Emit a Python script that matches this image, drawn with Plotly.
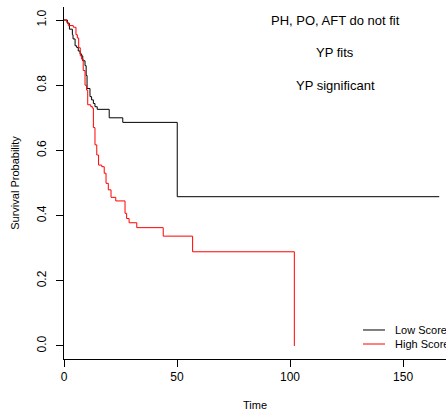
import plotly.graph_objects as go

# Kaplan-Meier step data
low_time = [0, 1.5, 2.4, 3.7, 4.0, 4.9, 5.6, 6.3, 7.1, 7.8, 8.3, 9.3, 9.8, 10.2,
            11.5, 12.2, 13.0, 13.7, 14.7, 20.0, 26.0, 50.1, 166.0]
low_surv = [1.0, 0.99, 0.972, 0.955, 0.942, 0.921, 0.916, 0.905, 0.896, 0.89, 0.875,
            0.86, 0.83, 0.79, 0.765, 0.755, 0.744, 0.734, 0.726, 0.70, 0.686, 0.458, 0.458]

high_time = [0, 1.2, 1.9, 4.1, 5.3, 5.9, 6.5, 7.2, 7.8, 8.5, 9.3, 10.0, 10.5, 11.8,
             12.5, 13.0, 13.7, 14.5, 15.3, 16.7, 17.8, 18.6, 19.6, 20.8, 22.9, 27.0,
             27.7, 28.8, 32.2, 43.9, 56.9, 101.9]
high_surv = [1.0, 0.993, 0.983, 0.978, 0.955, 0.945, 0.915, 0.89, 0.88, 0.845, 0.80,
             0.785, 0.74, 0.735, 0.73, 0.67, 0.617, 0.586, 0.555, 0.55, 0.53, 0.499,
             0.479, 0.456, 0.445, 0.407, 0.391, 0.378, 0.363, 0.337, 0.289, 0.0]

group_names = ["Low Score", "High Score"]
group_colors = ["black", "#ff0000"]

x_ticks = [0, 50, 100, 150]
y_ticks = [0.0, 0.2, 0.4, 0.6, 0.8, 1.0]
y_tick_labels = ["0.0", "0.2", "0.4", "0.6", "0.8", "1.0"]

notes = ["PH, PO, AFT do not fit", "YP fits", "YP significant"]
note_x = 120
note_y = [1.0, 0.9, 0.8]

FONT = "Liberation Sans, Arial, Helvetica, sans-serif"

fig = go.Figure()
fig.add_trace(go.Scatter(x=low_time, y=low_surv, mode="lines", line_shape="hv",
                         line=dict(color=group_colors[0], width=1), name=group_names[0],
                         showlegend=False))
fig.add_trace(go.Scatter(x=high_time, y=high_surv, mode="lines", line_shape="hv",
                         line=dict(color=group_colors[1], width=1), name=group_names[1],
                         showlegend=False))

for t, yy in zip(notes, note_y):
    fig.add_annotation(x=note_x, y=yy, xref="x", yref="y", text=t, showarrow=False,
                       font=dict(family=FONT, size=13, color="black"),
                       xanchor="center", yanchor="middle")

# manual legend (bottom right, partly cropped as in the reference)
leg_y = [0.0824, 0.0426]
for name, col, yy in zip(group_names, group_colors, leg_y):
    fig.add_shape(type="line", xref="paper", yref="paper", x0=0.7827, x1=0.8403,
                  y0=yy, y1=yy, line=dict(color=col, width=1))
    fig.add_annotation(x=0.861, y=yy, xref="paper", yref="paper", text=name,
                       showarrow=False, xanchor="left", yanchor="middle",
                       font=dict(family=FONT, size=11, color="black"))

fig.update_layout(
    width=446, height=415,
    margin=dict(l=64, r=0, t=7, b=56),
    paper_bgcolor="white", plot_bgcolor="white",
    font=dict(family=FONT, size=12, color="black"),
    showlegend=False,
)
fig.update_xaxes(range=[0, 169.0], tickvals=x_ticks, ticks="outside", ticklen=7,
                 tickcolor="black", tickwidth=1, showline=True, linecolor="black",
                 linewidth=1, showgrid=False, zeroline=False,
                 tickfont=dict(family=FONT, size=12),
                 title=dict(text="Time", font=dict(family=FONT, size=11), standoff=17))
fig.update_yaxes(range=[-0.04, 1.04], tickvals=y_ticks, ticktext=y_tick_labels,
                 ticks="outside", ticklen=7, tickcolor="black", tickwidth=1,
                 showline=True, linecolor="black", linewidth=1, showgrid=False,
                 zeroline=False, tickangle=-90, ticklabelstandoff=5,
                 tickfont=dict(family=FONT, size=12),
                 title=dict(text="Survival Probability", font=dict(family=FONT, size=11),
                            standoff=13))

fig.write_html("out.html")
